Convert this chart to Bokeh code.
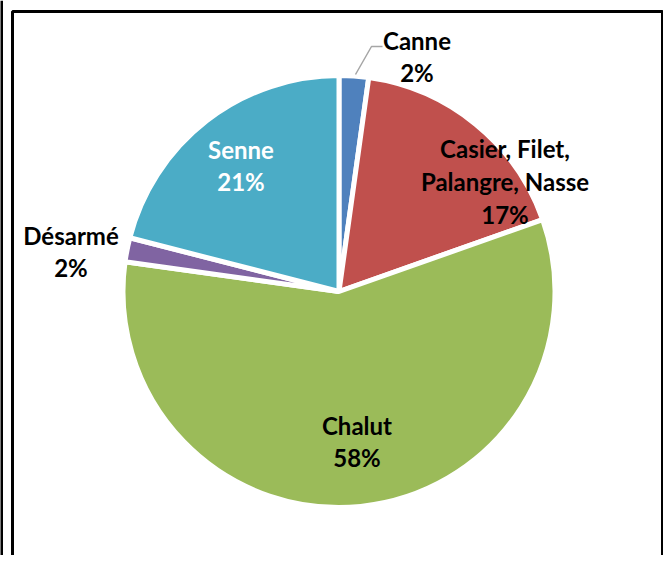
import math
from bokeh.plotting import figure
from bokeh.models import Range1d, ColumnDataSource
from bokeh.core.properties import value
from bokeh.embed import file_html
from bokeh.resources import INLINE

# ---- data ----
categories = ["Canne", "Casier, Filet,\nPalangre, Nasse", "Chalut", "Désarmé", "Senne"]
shares = [2.2, 17.4, 57.6, 1.8, 21.0]
colors = ["#4F81BD", "#C0504D", "#9BBB59", "#8064A2", "#4BACC6"]
label_colors = ["black", "black", "black", "black", "white"]
# label anchor offsets from pie centre (pixels), style only
label_dx = [78, 166, 18, -268, -98]
label_dy = [-235, -110, 150, -40, -126]

W, H = 663, 555


def Y(py):
    return H - py


p = figure(width=W, height=H, output_backend="svg", toolbar_location=None,
           x_range=Range1d(0, W), y_range=Range1d(0, H), min_border=0)
p.axis.visible = False
p.grid.visible = False
p.outline_line_color = None
p.background_fill_color = "white"

cx, cy, R = 338.5, Y(291), 216

total = sum(shares)
starts, ends = [], []
cum = 0.0
for s in shares:
    a0 = math.pi / 2 - 2 * math.pi * cum / total
    cum += s
    a1 = math.pi / 2 - 2 * math.pi * cum / total
    starts.append(a1)
    ends.append(a0)

src = ColumnDataSource(dict(start=starts, end=ends, color=colors))
p.wedge(x=cx, y=cy, radius=R, start_angle="start", end_angle="end",
        fill_color="color", line_color="white", line_width=5, source=src)

# labels
texts = [f"{c}\n{round(s / total * 100):.0f}%" for c, s in zip(categories, shares)]
lsrc = ColumnDataSource(dict(
    x=[cx + dx for dx in label_dx],
    y=[cy - dy for dy in label_dy],
    t=texts, c=label_colors))
p.text(x="x", y="y", text="t", text_color="c", source=lsrc,
       text_font=value("Lato"), text_font_style="bold", text_font_size="24px",
       text_align="center", text_baseline="middle", text_line_height=1.13)

# leader line for Canne
p.line(x=[355, 371, 382], y=[Y(74), Y(46), Y(46)], line_color="#A6A6A6", line_width=1.5)

# frame decoration
p.line(x=[12, 12, 662, 662], y=[Y(560), Y(11), Y(11), Y(560)], line_color="black", line_width=3)
p.line(x=[1, 1], y=[Y(560), Y(0)], line_color="black", line_width=3)

open("out.html", "w").write(file_html(p, INLINE))
